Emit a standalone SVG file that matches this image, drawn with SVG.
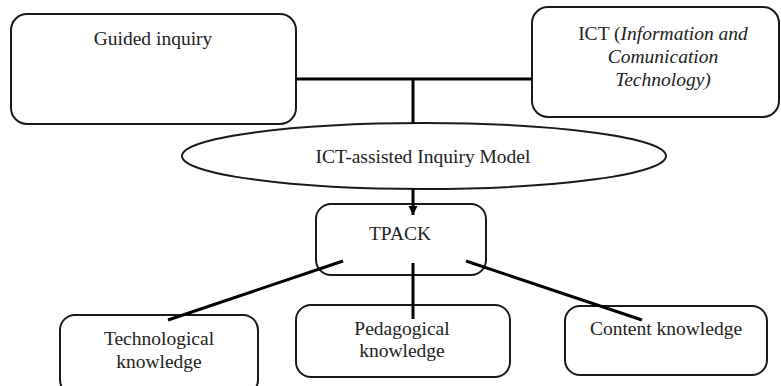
<svg xmlns="http://www.w3.org/2000/svg" width="781" height="386" viewBox="0 0 781 386">
<defs>
<style>
.box{fill:#fff;stroke:#1a1a1a;stroke-width:2}
.t{font-size:19.5px;fill:#222;text-anchor:middle}
.i{font-style:italic}
.c{stroke:#000;stroke-width:3;fill:none}
</style>
<marker id="ah" viewBox="0 0 10 10" refX="10" refY="5" markerWidth="3" markerHeight="3.4" orient="auto" markerUnits="strokeWidth">
<path d="M0,0 L10,5 L0,10 z" fill="#000"/>
</marker>
</defs>
<g font-family="Liberation Serif, serif">
<g id="guided">
<rect class="box" x="11" y="14" width="285" height="110" rx="16"/>
<text class="t" x="153" y="45">Guided inquiry</text>
</g>
<g id="ict">
<rect class="box" x="532" y="7" width="247" height="110" rx="16"/>
<text class="t" x="663" y="40">ICT (<tspan class="i">Information and</tspan></text>
<text class="t i" x="663" y="63">Comunication</text>
<text class="t i" x="663" y="86">Technology)</text>
</g>
<g id="model">
<ellipse class="box" cx="424" cy="156" rx="242" ry="33"/>
<text class="t" x="423" y="163">ICT-assisted Inquiry Model</text>
</g>
<g id="tpack">
<rect class="box" x="316" y="204" width="170" height="71" rx="15"/>
<text class="t" x="400" y="240">TPACK</text>
</g>
<g id="tk">
<rect class="box" x="60" y="315" width="198" height="80" rx="15"/>
<text class="t" x="159" y="345">Technological</text>
<text class="t" x="159" y="368">knowledge</text>
</g>
<g id="pk">
<rect class="box" x="296" y="305" width="214" height="72" rx="15"/>
<text class="t" x="402" y="335">Pedagogical</text>
<text class="t" x="402" y="357">knowledge</text>
</g>
<g id="ck">
<rect class="box" x="565" y="306" width="202" height="69" rx="15"/>
<text class="t" x="666" y="335">Content knowledge</text>
</g>
</g>
<g id="connectors">
<line class="c" x1="296" y1="79" x2="532" y2="79"/>
<line class="c" x1="413" y1="79" x2="413" y2="123"/>
<line class="c" x1="413" y1="189" x2="413" y2="215" marker-end="url(#ah)"/>
<line class="c" x1="343" y1="261" x2="168" y2="320"/>
<line class="c" x1="413" y1="263" x2="413" y2="319"/>
<line class="c" x1="466" y1="261" x2="642" y2="320"/>
</g>
</svg>
